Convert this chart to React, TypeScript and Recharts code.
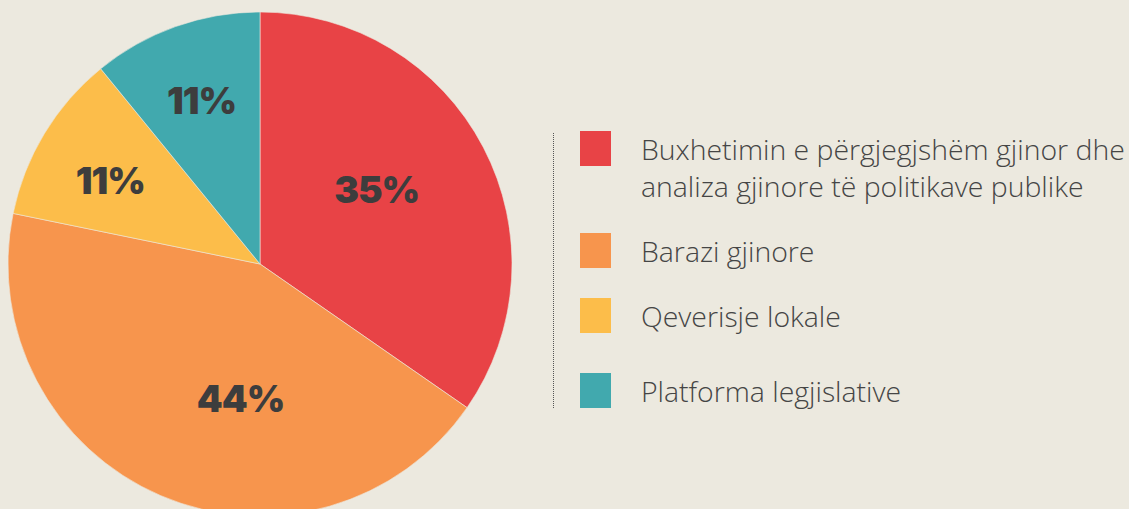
import { Cell, Legend, Pie, PieChart } from "recharts";

const categories = [
    "Buxhetimin e përgjegjshëm gjinor dhe analiza gjinore të politikave publike",
    "Barazi gjinore",
    "Qeverisje lokale",
    "Platforma legjislative",
];
const shares = [35, 44, 11, 11];
const colors = ["#e84346", "#f7954d", "#fcbd4a", "#41a9ae"];

const data = categories.map((name, i) => ({ name, value: shares[i] }));

// small nudges so the labels sit where the original designer put them
const labelTweak = [
    { da: 5, rf: 0.55 },
    { da: 15, rf: 0.54 },
    { da: 2, rf: 0.68 },
    { da: 0, rf: 0.69 },
];
const legendGaps = [30, 30, 40, 0];

const RAD = Math.PI / 180;

const renderLabel = (props: any) => {
    const { cx, cy, midAngle, outerRadius, index, value } = props;
    const t = labelTweak[index];
    const a = (midAngle + t.da) * RAD;
    const r = outerRadius * t.rf;
    const x = cx + r * Math.cos(-a);
    const y = cy + r * Math.sin(-a);
    return (
        <text
            x={x}
            y={y}
            textAnchor="middle"
            dominantBaseline="central"
            fill="#3d3d3d"
            fontFamily="Inter"
            fontWeight={900}
            fontSize={37}
            letterSpacing={-1}
        >
            {`${value}%`}
        </text>
    );
};

const renderLegend = (props: any) => {
    const payload = [...(props.payload || [])].sort(
        (a: any, b: any) => categories.indexOf(a.value) - categories.indexOf(b.value)
    );
    return (
        <div style={{ borderLeft: "1px dotted #555", paddingLeft: 26, height: 275 }}>
            {payload.map((entry: any, i: number) => (
                <div key={i} style={{ display: "flex", alignItems: "flex-start", marginBottom: legendGaps[i] }}>
                    <div style={{ width: 31, height: 35, background: entry.color, flexShrink: 0, marginTop: -2 }} />
                    <div
                        style={{
                            marginLeft: 30,
                            fontFamily: "Open Sans",
                            fontWeight: 300,
                            fontSize: 28.4,
                            lineHeight: "37px",
                            color: "#454545",
                            marginTop: -2,
                            width: 530,
                            whiteSpace: "normal",
                        }}
                    >
                        {entry.value}
                    </div>
                </div>
            ))}
        </div>
    );
};

export default function App() {
    return (
        <div style={{ position: "absolute", left: 0, top: 0, width: 1129, height: 509, background: "#ece9df", overflow: "hidden" }}>
            <PieChart width={1129} height={509} margin={{ top: 0, right: 0, bottom: 0, left: 0 }}>
                <Pie
                    data={data}
                    dataKey="value"
                    nameKey="name"
                    cx={260}
                    cy={264}
                    outerRadius={252}
                    startAngle={90}
                    endAngle={-270}
                    stroke="#ece9df"
                    strokeWidth={0.6}
                    label={renderLabel}
                    labelLine={false}
                    isAnimationActive={false}
                >
                    {data.map((d, i) => (
                        <Cell key={d.name} fill={colors[i]} />
                    ))}
                </Pie>
                <Legend
                    layout="vertical"
                    align="right"
                    verticalAlign="top"
                    content={renderLegend}
                    wrapperStyle={{ position: "absolute", left: 553, top: 133, width: 576 }}
                />
            </PieChart>
        </div>
    );
}
